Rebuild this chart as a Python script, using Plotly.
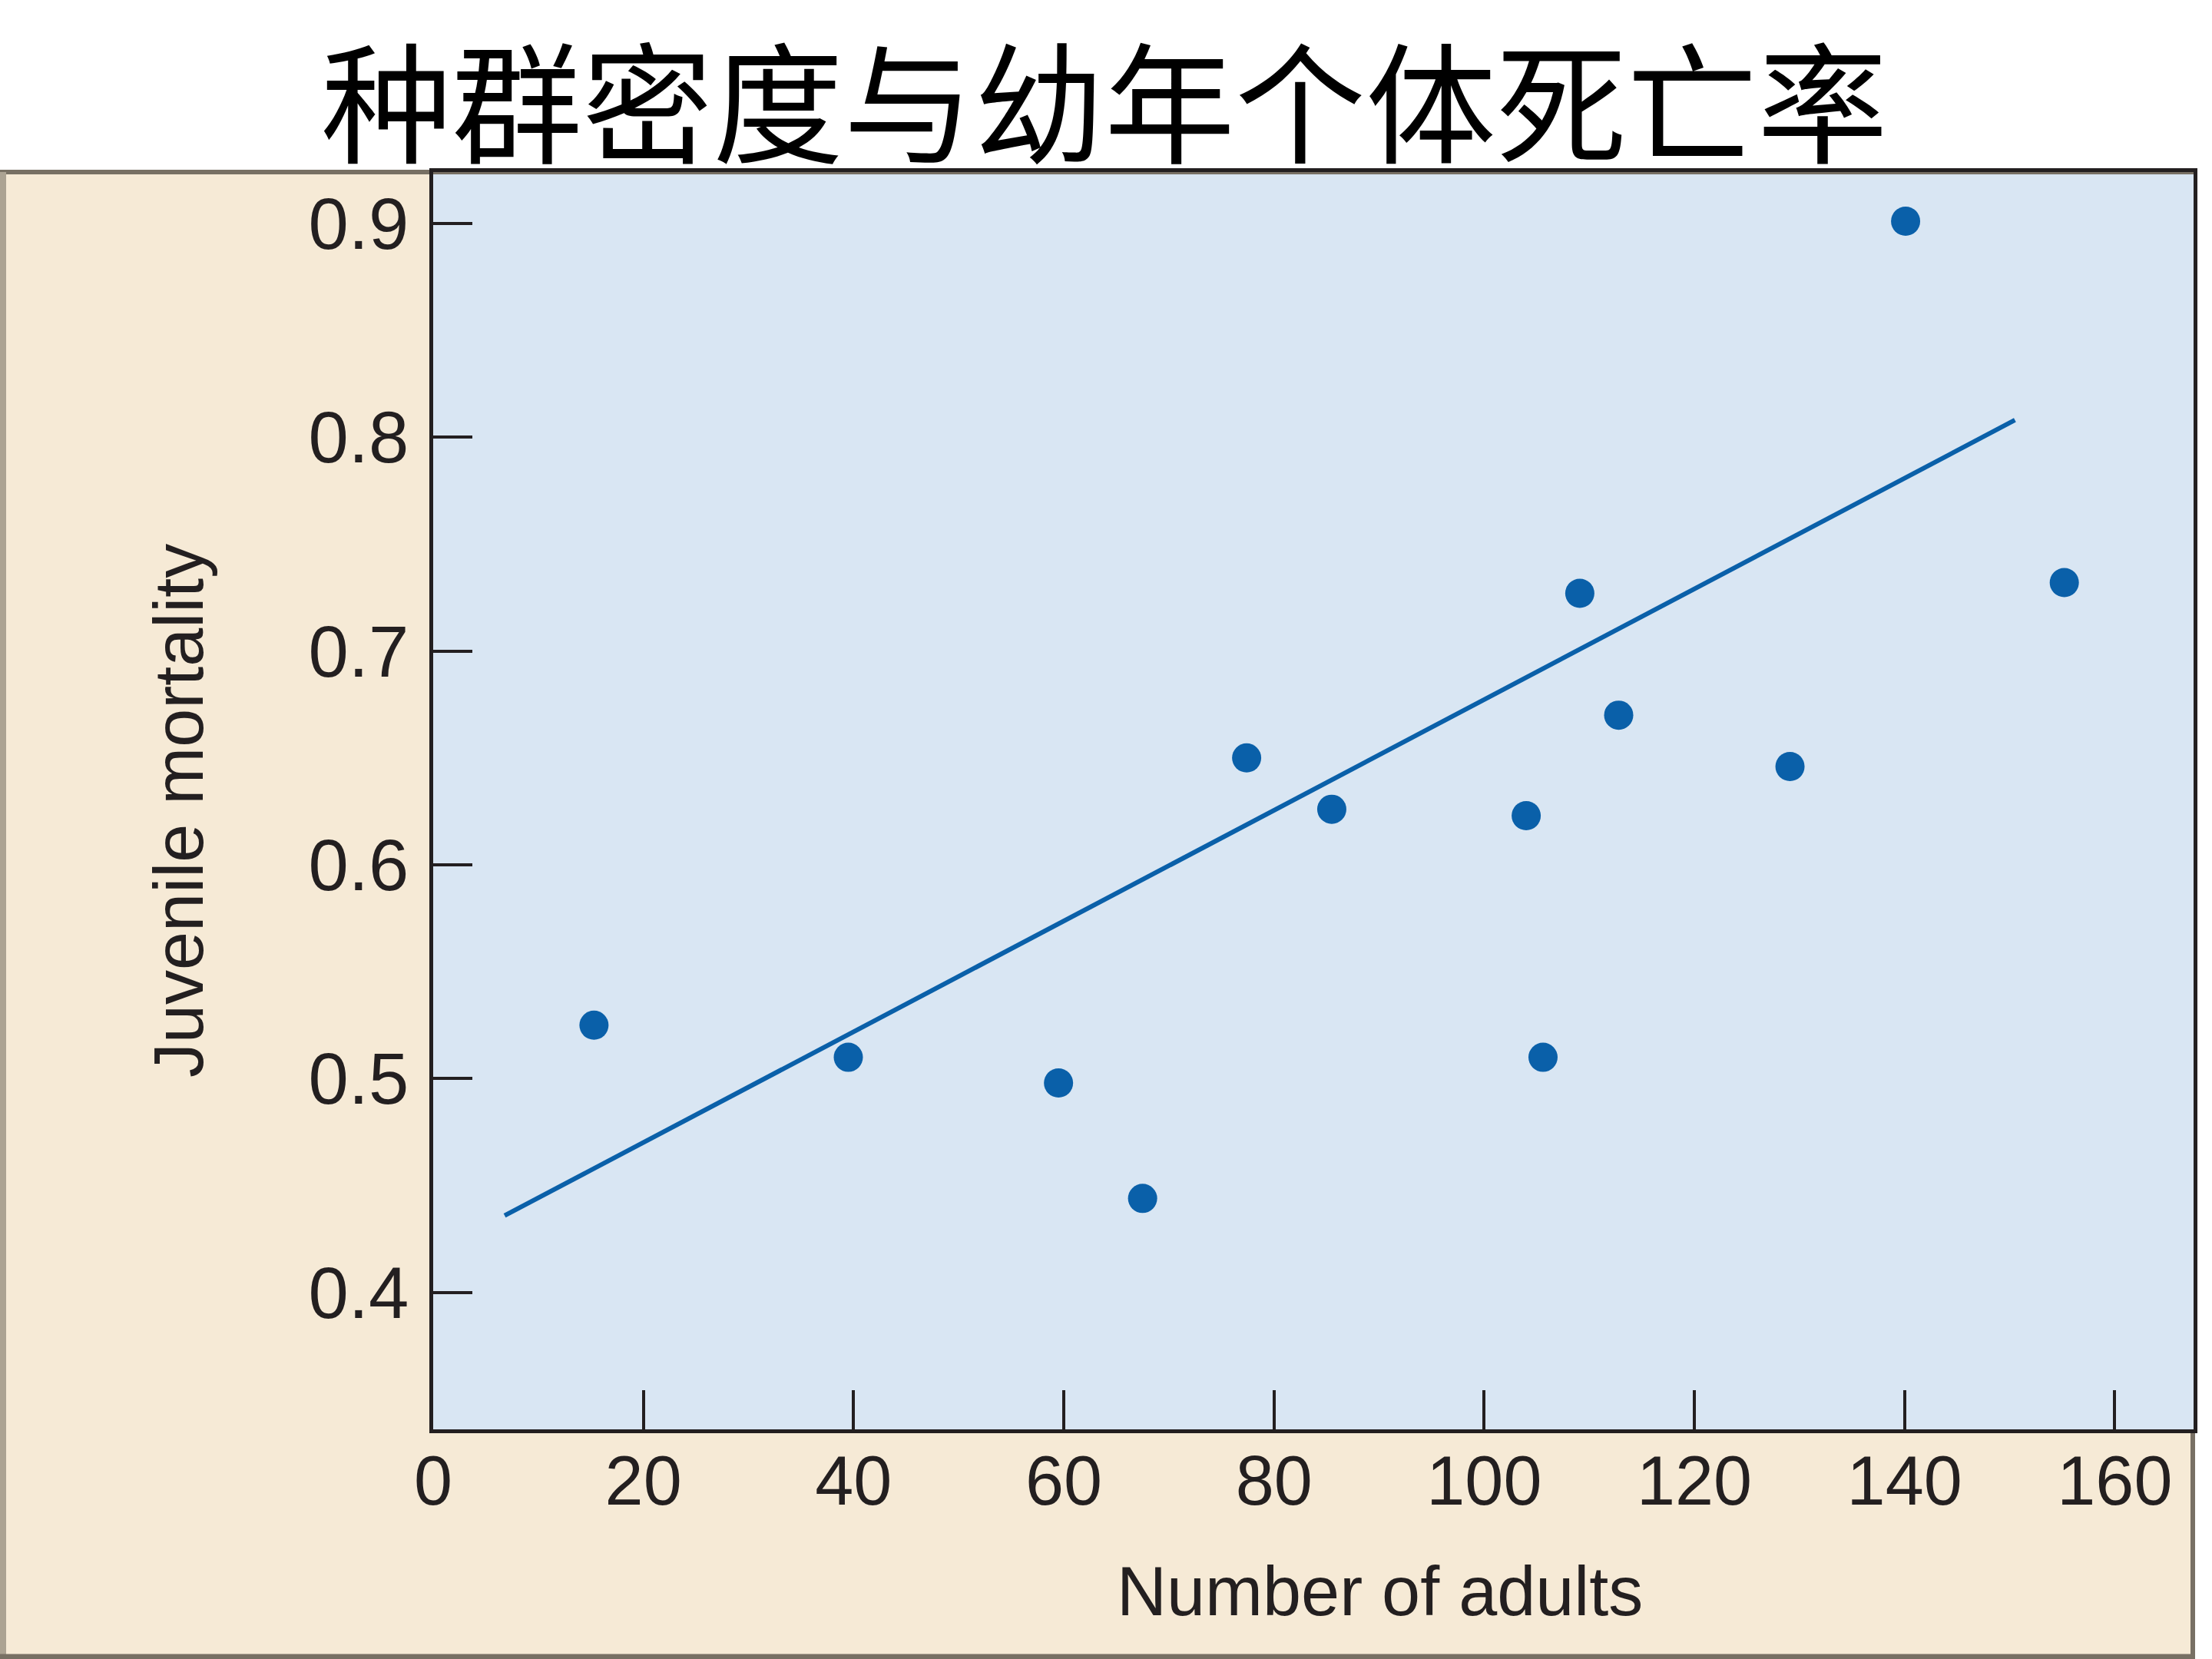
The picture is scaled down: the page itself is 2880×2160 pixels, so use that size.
import plotly.graph_objects as go

# ---- data ----
adults = [15.3, 39.5, 59.5, 67.5, 77.4, 85.5, 104.0, 105.6, 109.1, 112.8, 129.1, 140.1, 155.2]
mortality = [0.525, 0.510, 0.498, 0.444, 0.650, 0.626, 0.623, 0.510, 0.727, 0.670, 0.646, 0.901, 0.732]
fit_x = [6.8, 150.5]
fit_y = [0.436, 0.808]
x_ticks = [0, 20, 40, 60, 80, 100, 120, 140, 160]
y_ticks = [0.4, 0.5, 0.6, 0.7, 0.8, 0.9]
y_ticktext = ["0.4", "0.5", "0.6", "0.7", "0.8", "0.9"]
title_text = "种群密度与幼年个体死亡率"
x_title = "Number of adults"
y_title = "Juvenile mortality"

W, H = 2880, 2160
L, R, T, B = 564, 2856, 224, 1861  # plot area in px
pw, ph = R - L, B - T

def px_x(p):
    return (p - L) / pw

def px_y(p):
    return (B - p) / ph

INK = "#231f20"
BLUE = "#0a60a9"
FONT = "Liberation Sans, Arial, Helvetica, sans-serif"

fig = go.Figure()
fig.add_trace(go.Scatter(x=fit_x, y=fit_y, mode="lines",
                         line=dict(color=BLUE, width=6), hoverinfo="skip", showlegend=False))
fig.add_trace(go.Scatter(x=adults, y=mortality, mode="markers",
                         marker=dict(color=BLUE, size=38, line=dict(width=0)), showlegend=False))

shapes = [
    # white strip above the panel
    dict(type="rect", xref="paper", yref="paper", x0=px_x(0), x1=px_x(W), y0=px_y(221), y1=px_y(0),
         fillcolor="#ffffff", line=dict(width=0), layer="below"),
    dict(type="rect", xref="paper", yref="paper", x0=px_x(2858), x1=px_x(W), y0=px_y(H), y1=px_y(0),
         fillcolor="#ffffff", line=dict(width=0), layer="below"),
    # panel borders
    dict(type="line", xref="paper", yref="paper", x0=px_x(0), x1=px_x(2858), y0=px_y(224), y1=px_y(224),
         line=dict(color="#787064", width=6), layer="below"),
    dict(type="line", xref="paper", yref="paper", x0=px_x(4), x1=px_x(4), y0=px_y(2160), y1=px_y(224),
         line=dict(color="#aca393", width=8), layer="below"),
    dict(type="line", xref="paper", yref="paper", x0=px_x(0), x1=px_x(2858), y0=px_y(2157), y1=px_y(2157),
         line=dict(color="#787064", width=7), layer="below"),
    dict(type="line", xref="paper", yref="paper", x0=px_x(2855), x1=px_x(2855), y0=px_y(2160), y1=px_y(1861),
         line=dict(color="#787064", width=6), layer="below"),
]

annotations = [
    dict(text=title_text, xref="paper", yref="paper", x=px_x(1438), y=px_y(126),
         showarrow=False, xanchor="center", yanchor="middle",
         font=dict(family="Noto Sans CJK SC", size=170, color="#000000")),
    dict(text=x_title, xref="paper", yref="paper", x=px_x(1796), y=px_y(2072),
         showarrow=False, xanchor="center", yanchor="middle",
         font=dict(family=FONT, size=90, color=INK)),
    dict(text=y_title, xref="paper", yref="paper", x=px_x(233), y=px_y(1056),
         showarrow=False, xanchor="center", yanchor="middle", textangle=-90,
         font=dict(family=FONT, size=90, color=INK)),
]

fig.update_layout(
    width=W, height=H,
    margin=dict(l=L, r=W - R, t=T, b=H - B),
    paper_bgcolor="#f6ead6",
    plot_bgcolor="#d9e6f3",
    shapes=shapes,
    annotations=annotations,
    font=dict(family=FONT, color=INK),
)
fig.update_xaxes(range=[0, 167.5], tickvals=x_ticks, ticks="inside", ticklen=51, tickwidth=4,
                 tickcolor=INK, showline=True, linecolor=INK, linewidth=5, mirror=True,
                 showgrid=False, zeroline=False, tickfont=dict(family=FONT, size=90, color=INK),
                 ticklabelstandoff=-15)
fig.update_yaxes(range=[0.336, 0.924], tickvals=y_ticks, ticktext=y_ticktext, ticks="inside",
                 ticklen=51, tickwidth=4, tickcolor=INK, showline=True, linecolor=INK, linewidth=5,
                 mirror=True, showgrid=False, zeroline=False,
                 tickfont=dict(family=FONT, size=94, color=INK), ticklabelstandoff=8)

fig.write_html("out.html")
